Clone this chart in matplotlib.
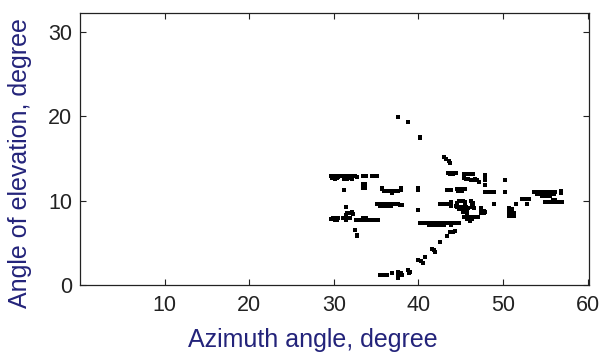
import matplotlib
matplotlib.use("Agg")
import matplotlib.pyplot as plt
import numpy as np

# Detected (azimuth, elevation) points in degrees, grouped by region.
left_pts = [
    (29.70, 12.9), (29.95, 12.9), (30.20, 12.9), (30.45, 12.85), (30.70, 12.9), (30.95, 12.9),
    (31.20, 12.85), (31.45, 12.9), (31.70, 12.9), (31.95, 12.85), (32.20, 12.9), (32.45, 12.9),
    (32.70, 12.85), (29.80, 12.65), (30.10, 12.6), (30.40, 12.65), (31.20, 12.6), (31.50, 12.6),
    (31.80, 12.65), (32.10, 12.6),
    (33.50, 12.93), (33.80, 12.93), (34.50, 12.93), (34.80, 12.93), (35.10, 12.93),
    (31.21, 11.27), (33.40, 11.98), (33.70, 11.98), (33.40, 11.50), (33.70, 11.50),
    (35.70, 11.55), (35.70, 11.35), (35.90, 11.20), (36.20, 11.20), (36.50, 11.20), (36.80, 11.20),
    (36.90, 10.95), (37.10, 11.20), (37.40, 11.20), (37.60, 11.10), (37.90, 11.30), (37.95, 11.55),
    (39.93, 11.50), (39.93, 11.30),
    (35.05, 9.6), (35.30, 9.6), (35.55, 9.55), (35.80, 9.6), (36.05, 9.6), (36.30, 9.55),
    (36.55, 9.6), (36.80, 9.6), (37.05, 9.55), (37.30, 9.6), (37.55, 9.55), (37.80, 9.5),
    (38.00, 9.45), (35.50, 9.35), (35.75, 9.35), (36.00, 9.35), (36.25, 9.35), (36.50, 9.35),
    (36.75, 9.4), (39.93, 8.90), (31.49, 9.29),
    (31.60, 8.55), (31.90, 8.55), (32.20, 8.65), (32.30, 8.40), (31.40, 8.30),
    (29.70, 7.85), (29.95, 7.95), (30.20, 8.00), (30.45, 7.90), (30.10, 7.70), (30.40, 7.70),
    (31.10, 7.90), (31.35, 7.90), (31.60, 7.90), (31.85, 8.00), (31.40, 7.70),
    (32.67, 7.71), (32.92, 7.71), (33.17, 7.71), (33.42, 7.71), (33.67, 7.71), (33.92, 7.71),
    (34.17, 7.71), (34.42, 7.71), (34.67, 7.71), (34.92, 7.71), (35.17, 7.71), (33.50, 7.90),
    (33.75, 7.90), (32.47, 6.52), (32.79, 5.93), (32.79, 5.75),
    (37.63, 19.97), (38.82, 19.30),
]

diag_pts = [
    (35.45, 1.19), (35.70, 1.19), (35.95, 1.19), (36.24, 1.19), (36.84, 1.38), (37.63, 1.55),
    (37.63, 1.30), (37.90, 1.45), (38.00, 1.20), (37.63, 0.79), (38.82, 1.75), (38.95, 1.50),
    (38.90, 1.38), (40.00, 2.95), (40.30, 2.80), (40.60, 2.60), (40.80, 3.36), (41.60, 4.30),
    (41.80, 4.10), (42.00, 3.95), (42.58, 5.14), (43.38, 5.81), (43.77, 6.33), (44.07, 6.33),
    (44.37, 6.40),
]

mid_pts = [
    (40.20, 17.6), (40.20, 17.4),
    (42.98, 15.22), (43.30, 14.95), (43.60, 14.70), (43.77, 14.43),
    (43.50, 13.33), (43.75, 13.33), (44.00, 13.33), (44.25, 13.33), (44.50, 13.33),
    (43.70, 13.15), (44.10, 13.15),
    (45.40, 13.17), (45.65, 13.2), (45.90, 13.2), (46.15, 13.2), (46.40, 13.1), (45.40, 12.9),
    (45.40, 12.65), (45.65, 12.6), (45.90, 12.6), (46.20, 12.5), (46.50, 12.5), (46.75, 12.6),
    (46.95, 12.5), (47.90, 13.0), (47.90, 12.7), (47.90, 12.4), (47.14, 12.26),
    (43.38, 11.27), (43.89, 11.27),
    (44.57, 11.35), (44.82, 11.35), (45.07, 11.35), (45.32, 11.35), (45.56, 11.35),
    (44.70, 11.2), (45.20, 11.2), (47.86, 11.86),
    (47.93, 11.03), (48.18, 11.03), (48.43, 11.03), (48.68, 11.03), (48.93, 11.03),
    (40.21, 7.32), (40.46, 7.32), (40.95, 7.32), (41.20, 7.32), (41.45, 7.32), (41.70, 7.32),
    (41.95, 7.32), (42.20, 7.32), (42.45, 7.32), (42.70, 7.32), (42.95, 7.32), (43.20, 7.32),
    (43.45, 7.32), (43.70, 7.32), (43.95, 7.32), (44.20, 7.32), (44.45, 7.32), (44.76, 7.32),
    (41.30, 7.15), (41.65, 7.15), (42.00, 7.15), (42.35, 7.15), (42.70, 7.15), (43.05, 7.15),
    (43.80, 7.15),
    (42.58, 9.57), (42.83, 9.57), (43.08, 9.57), (43.33, 9.57), (43.58, 9.57),
    (43.80, 9.88), (43.80, 9.60), (43.80, 9.35),
    (44.40, 9.4), (44.60, 9.7), (44.80, 9.9), (45.05, 9.9), (45.30, 9.9), (45.55, 9.8), (45.50, 9.5),
    (44.60, 9.2), (44.85, 9.2), (45.10, 9.3), (45.35, 9.2), (45.60, 9.2), (45.85, 9.1),
    (44.80, 8.95), (45.05, 8.95), (45.30, 8.95), (45.55, 8.9), (45.80, 8.8), (45.30, 8.7),
    (45.55, 8.6), (45.80, 8.5),
    (46.25, 10.0), (46.40, 9.75), (46.30, 9.5), (46.50, 9.5), (46.30, 9.25), (46.55, 9.1),
    (45.36, 8.1), (45.60, 8.1), (45.85, 8.1), (46.10, 8.1), (46.35, 8.1), (46.60, 8.1),
    (46.85, 8.1), (47.10, 8.1), (45.70, 7.85), (46.00, 7.8), (46.30, 7.8), (46.15, 7.6),
    (47.40, 9.1), (47.40, 8.8), (47.70, 8.8), (47.40, 8.5), (47.70, 8.5), (47.90, 8.6),
]

right_pts = [
    (50.24, 12.46), (50.24, 11.03), (48.97, 9.57), (51.58, 9.57), (52.89, 9.57),
    (52.30, 10.16), (52.55, 10.16), (52.80, 10.16), (53.05, 10.16),
    (53.70, 11.05), (53.95, 11.05), (54.20, 11.05), (54.45, 11.05), (54.70, 11.05), (54.95, 11.05),
    (55.20, 11.05), (55.45, 11.05), (55.70, 11.05), (55.95, 11.05), (56.20, 11.05),
    (54.00, 10.8), (54.25, 10.8), (54.50, 10.8), (54.75, 10.8), (55.00, 10.8), (55.25, 10.8),
    (55.50, 10.8), (55.75, 10.8), (56.00, 10.8),
    (54.60, 10.55), (54.85, 10.55), (55.10, 10.55), (55.35, 10.55), (55.60, 10.55),
    (56.85, 11.1), (56.85, 10.9),
    (55.00, 9.88), (55.25, 9.88), (55.50, 9.88), (55.75, 9.88), (56.00, 9.88), (56.25, 9.88),
    (56.50, 9.88), (56.75, 9.88), (57.00, 9.88), (55.90, 10.1), (56.10, 10.1),
    (50.75, 9.1), (51.05, 9.0), (50.75, 8.8), (51.05, 8.8), (50.75, 8.5), (51.05, 8.5),
    (51.30, 8.5), (50.75, 8.2), (51.05, 8.2), (51.30, 8.2),
]

xticks = [10, 20, 30, 40, 50, 60]
yticks = [0, 10, 20, 30]

plt.rcParams['font.family'] = ['Liberation Sans', 'DejaVu Sans']

fig = plt.figure(figsize=(6.0, 3.54), dpi=100)
ax = fig.add_axes([0.1337, 0.1949, 0.8483, 0.7675])

pts = np.array(left_pts + diag_pts + mid_pts + right_pts)
ax.plot(pts[:, 0], pts[:, 1], linestyle='none', marker='s', markersize=2.3,
        markeredgewidth=0, color='black')

ax.set_xlim(0.0, 60.2)
ax.set_ylim(0.0, 32.2)
ax.set_xticks(xticks)
ax.set_yticks(yticks)

ax.tick_params(direction='in', length=4.5, width=0.8, top=True, right=True,
               labelsize=15.5, colors='#222222')
ax.tick_params(axis='x', pad=7.5)
ax.tick_params(axis='y', pad=6)
for spine in ax.spines.values():
    spine.set_linewidth(0.9)
    spine.set_color('#222222')

labelColor = '#23237a'
ax.set_xlabel("Azimuth angle, degree", fontsize=18, color=labelColor)
ax.set_ylabel("Angle of elevation, degree", fontsize=18, color=labelColor)
ax.xaxis.set_label_coords(0.457, -0.16)
ax.yaxis.set_label_coords(-0.095, 0.45)

fig.savefig("out.png", dpi=100)
